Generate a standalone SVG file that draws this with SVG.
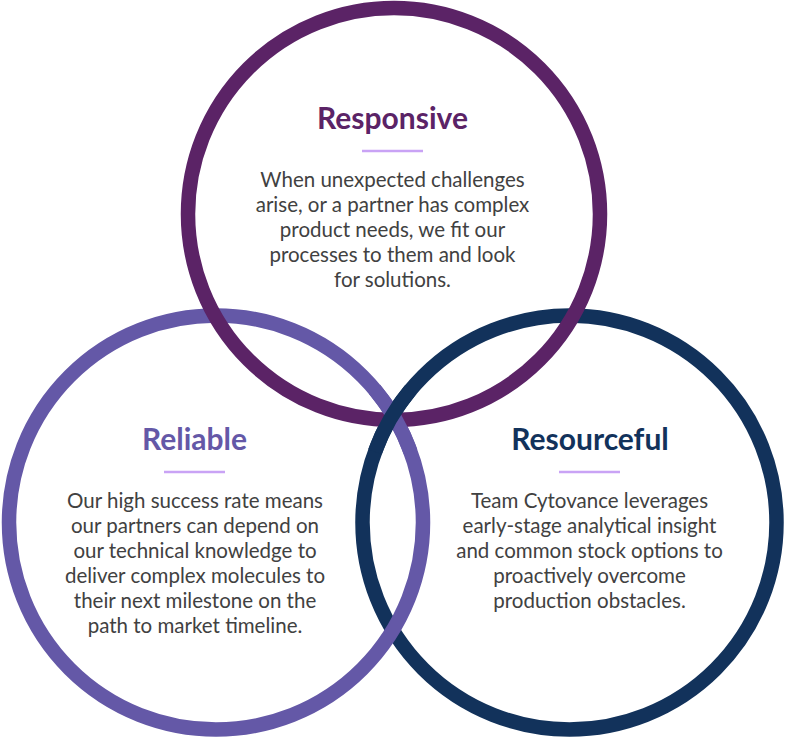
<svg xmlns="http://www.w3.org/2000/svg" width="785" height="737" viewBox="0 0 785 737">
<style>
.ring{fill:none;stroke-width:14.5}
.t-resp{stroke:#5b2366}
.t-reli{stroke:#6458a7}
.t-reso{stroke:#12325b}
.title{font-family:Lato,"Liberation Sans",sans-serif;font-weight:700;font-size:30px;text-anchor:middle}
.body{font-family:Lato,"Liberation Sans",sans-serif;font-size:20.5px;fill:#414141;text-anchor:middle}
.rule{stroke:#c9a3f5;stroke-width:2.5}
</style>
<rect width="785" height="737" fill="#ffffff"/>
<g id="node-resourceful">
<circle class="ring t-reso" cx="569.5" cy="522.5" r="207"/>
<text class="title" x="590" y="450" fill="#12325b">Resourceful</text>
<line class="rule" x1="559" y1="472" x2="620" y2="472"/>
<text class="body" x="589.5" y="508">Team Cytovance leverages</text>
<text class="body" x="589.5" y="533">early-stage analytical insight</text>
<text class="body" x="589.5" y="558">and common stock options to</text>
<text class="body" x="589.5" y="583">proactively overcome</text>
<text class="body" x="589.5" y="608">production obstacles.</text>
</g>
<g id="node-reliable">
<circle class="ring t-reli" cx="216" cy="522.5" r="207"/>
<text class="title" x="194.5" y="450" fill="#6458a7">Reliable</text>
<line class="rule" x1="164" y1="472" x2="225" y2="472"/>
<text class="body" x="195" y="508">Our high success rate means</text>
<text class="body" x="195" y="533">our partners can depend on</text>
<text class="body" x="195" y="558">our technical knowledge to</text>
<text class="body" x="195" y="583">deliver complex molecules to</text>
<text class="body" x="195" y="608">their next milestone on the</text>
<text class="body" x="195" y="633">path to market timeline.</text>
</g>
<g id="node-responsive">
<circle class="ring t-resp" cx="394" cy="214" r="206"/>
<text class="title" x="392.5" y="129" fill="#5b2366">Responsive</text>
<line class="rule" x1="362" y1="151" x2="423" y2="151"/>
<text class="body" x="392.5" y="187">When unexpected challenges</text>
<text class="body" x="392.5" y="212">arise, or a partner has complex</text>
<text class="body" x="392.5" y="237">product needs, we fit our</text>
<text class="body" x="392.5" y="262">processes to them and look</text>
<text class="body" x="392.5" y="287">for solutions.</text>
</g>
<g id="interlace">
<path class="ring t-reli" d="M374.6 389.4 A207 207 0 0 1 410.5 451.7"/>
<path class="ring t-reso" d="M375 451.7 A207 207 0 0 1 410.9 389.4"/>
</g>
</svg>
